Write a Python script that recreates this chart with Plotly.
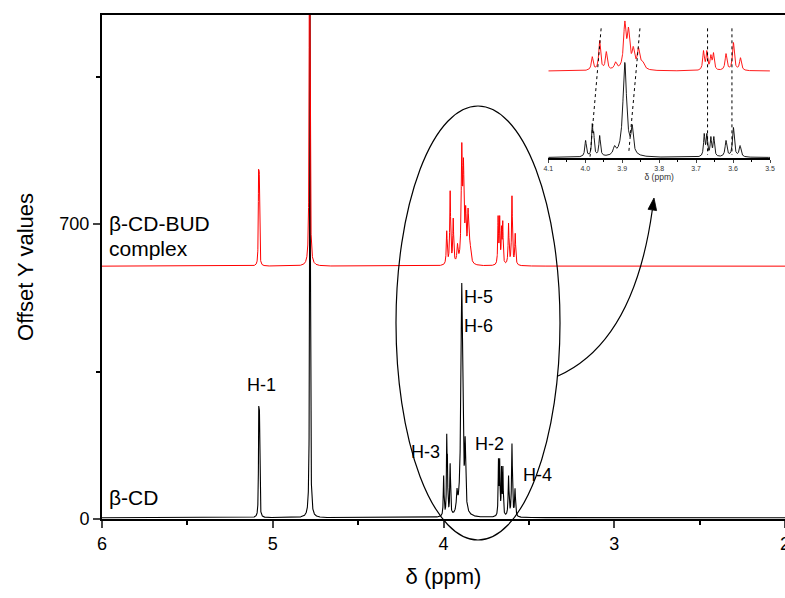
import numpy as np
import plotly.graph_objects as go

# ---------------- data ----------------
# beta-CD spectrum: peak positions (ppm), peak heights, half widths (ppm)
bcd_ppm = [5.082, 5.078, 4.782, 3.999, 3.981, 3.977, 3.961, 3.921, 3.893, 3.873,
           3.678, 3.671, 3.660, 3.652, 3.619, 3.599, 3.581]
bcd_height = [265, 255, 1500, 100, 199, 150, 129, 70, 557, 193,
              141, 141, 123, 123, 100, 176, 70]
bcd_hwhm = [0.0018, 0.0018, 0.002, 0.0025, 0.0020, 0.0020, 0.0025, 0.004, 0.006, 0.0035,
            0.0022, 0.0022, 0.0022, 0.0022, 0.003, 0.003, 0.003]

# beta-CD-BUD complex spectrum
cplx_ppm = [5.083, 5.079, 4.784, 3.981, 3.961, 3.943, 3.918, 3.893, 3.883, 3.870,
            3.856, 3.845, 3.680, 3.671, 3.660, 3.653, 3.619, 3.599, 3.580]
cplx_height = [230, 225, 1500, 84, 179, 114, 54, 293, 257, 144,
               138, 60, 120, 120, 96, 108, 102, 167, 78]
cplx_hwhm = [0.0018, 0.0018, 0.002, 0.003, 0.003, 0.003, 0.004, 0.004, 0.004, 0.004,
             0.004, 0.006, 0.0025, 0.0025, 0.0025, 0.0025, 0.003, 0.003, 0.003]

bcd_offset = 3
cplx_offset = 600
inset_cplx_offset = 510

x_tick_vals = [6, 5, 4, 3, 2]
y_tick_vals = [0, 700]
inset_tick_vals = [4.1, 4.0, 3.9, 3.8, 3.7, 3.6, 3.5]

# dotted guide lines in the inset (ppm pairs, intensity pairs)
guide_ppm = [[3.957, 3.987], [3.852, 3.882], [3.669, 3.669], [3.603, 3.603]]
guide_int = [[760, 8], [760, 37], [760, 18], [760, 18]]

peak_labels = ["H-1", "H-5", "H-6", "H-3", "H-2", "H-4"]

# ---------------- spectrum construction ----------------
ppm = np.linspace(6.0, 2.0, 16001)


def spectrum(pos, heights, widths):
    pos = np.array(pos, float)
    h = np.array(heights, float)
    w = np.array(widths, float)
    M = w[None, :] ** 2 / ((pos[:, None] - pos[None, :]) ** 2 + w[None, :] ** 2)
    amp = np.clip(np.linalg.solve(M, h), 0, None)
    return (amp[None, :] * w[None, :] ** 2 /
            ((ppm[:, None] - pos[None, :]) ** 2 + w[None, :] ** 2)).sum(axis=1)


bcd = spectrum(bcd_ppm, bcd_height, bcd_hwhm)
cplx = spectrum(cplx_ppm, cplx_height, cplx_hwhm)
sel = (ppm <= 4.1) & (ppm >= 3.5)

# ---------------- layout geometry ----------------
# screen plot area is x 102..785, y 15..519 (page body margin removed)
W, H = 785, 598
L, T = 102, 15
PW, PH = 683, 504
R = W - L - PW
B = H - T - PH
SX0, SY1 = L, T + PH


def PX(x):
    return (x - SX0) / PW


def PY(y):
    return (SY1 - y) / PH


FONT = "Liberation Sans, Arial, sans-serif"

fig = go.Figure()
fig.add_trace(go.Scatter(x=ppm, y=bcd + bcd_offset, mode="lines",
                         line=dict(color="black", width=1.1), showlegend=False))
fig.add_trace(go.Scatter(x=ppm, y=cplx + cplx_offset, mode="lines",
                         line=dict(color="red", width=1.0), showlegend=False))

# inset traces
fig.add_trace(go.Scatter(x=ppm[sel], y=cplx[sel] + inset_cplx_offset, mode="lines",
                         line=dict(color="red", width=0.9), xaxis="x2", yaxis="y2",
                         showlegend=False))
fig.add_trace(go.Scatter(x=ppm[sel], y=bcd[sel] + bcd_offset, mode="lines",
                         line=dict(color="black", width=0.9), xaxis="x2", yaxis="y2",
                         showlegend=False))
for gp, gi in zip(guide_ppm, guide_int):
    fig.add_trace(go.Scatter(x=gp, y=gi, mode="lines",
                             line=dict(color="black", width=1, dash="dot"),
                             xaxis="x2", yaxis="y2", showlegend=False))

inset_scale = 0.1706  # px per intensity unit in inset
fig.update_layout(
    width=W, height=H,
    margin=dict(l=L, r=R, t=T, b=B, pad=0, autoexpand=False),
    paper_bgcolor="white", plot_bgcolor="white",
    font=dict(family=FONT, color="black"),
    xaxis=dict(range=[6, 2], tickvals=x_tick_vals, ticks="outside", ticklen=7, tickwidth=1.5,
               showline=True, linecolor="black", linewidth=2, mirror=True,
               showgrid=False, zeroline=False, ticklabeloverflow="allow", automargin=False,
               minor=dict(dtick=0.5, ticks="outside", ticklen=4, tickwidth=1.5, tickcolor="black"),
               tickfont=dict(size=18, family=FONT),
               title=dict(text="δ (ppm)", font=dict(size=22, family=FONT), standoff=16)),
    yaxis=dict(range=[0, 1196], tickvals=y_tick_vals, ticks="outside", ticklen=7, tickwidth=1.5,
               showline=True, linecolor="black", linewidth=2, automargin=False,
               showgrid=False, zeroline=False,
               minor=dict(dtick=350, ticks="outside", ticklen=4, tickwidth=1.5, tickcolor="black"),
               tickfont=dict(size=18, family=FONT),
               title=dict(text="Offset Y values", font=dict(size=22, family=FONT), standoff=20)),
    xaxis2=dict(domain=[PX(548.3), PX(770)], anchor="y2", range=[4.1, 3.5],
                tickvals=inset_tick_vals, ticktext=["4.1", "4.0", "3.9", "3.8", "3.7", "3.6", "3.5"],
                ticks="outside", ticklen=3, tickwidth=1, automargin=False,
                showline=True, linecolor="black", linewidth=1.5, showgrid=False, zeroline=False,
                minor=dict(dtick=0.05, ticks="outside", ticklen=2, tickwidth=1, tickcolor="black"),
                tickfont=dict(size=7, family=FONT, color="#333"),
                title=dict(text="δ (ppm)", font=dict(size=8.5, family=FONT, color="#333"), standoff=2)),
    yaxis2=dict(domain=[PY(158), 1.0], anchor="x2", range=[0, 143 / inset_scale],
                visible=False),
)

# ellipse
fig.add_shape(type="circle", xref="paper", yref="paper",
              x0=PX(396), x1=PX(560), y0=PY(540), y1=PY(106),
              line=dict(color="black", width=1.2), layer="above")
# curved arrow
p0, c, p2 = (558, 376), (634, 342), (652.3, 210)
fig.add_shape(type="path", xref="paper", yref="paper",
              path=f"M {PX(p0[0])},{PY(p0[1])} Q {PX(c[0])},{PY(c[1])} {PX(p2[0])},{PY(p2[1])}",
              line=dict(color="black", width=1.2))
fig.add_shape(type="path", xref="paper", yref="paper",
              path=f"M {PX(654)},{PY(198)} L {PX(656.6)},{PY(210.6)} L {PX(648.0)},{PY(209.3)} Z",
              fillcolor="black", line=dict(color="black", width=0.8))

# labels
lab_pos = [(261, 385), (478, 297), (478, 326), (425, 452), (489, 444), (537, 475)]
for txt, (x, y) in zip(peak_labels, lab_pos):
    fig.add_annotation(text=txt, xref="paper", yref="paper", x=PX(x), y=PY(y),
                       xanchor="center", yanchor="middle", showarrow=False,
                       font=dict(size=18, family=FONT, color="black"))
for txt, (x, y) in [("β-CD", (107, 497)), ("β-CD-BUD", (107, 224)), ("complex", (107, 248))]:
    fig.add_annotation(text=txt, xref="paper", yref="paper", x=PX(x), y=PY(y),
                       xanchor="left", yanchor="middle", showarrow=False,
                       font=dict(size=21, family=FONT, color="black"))

fig.write_html("out.html", config={"displayModeBar": False},
               post_script="document.body.style.margin='0';document.body.style.overflow='hidden';")
